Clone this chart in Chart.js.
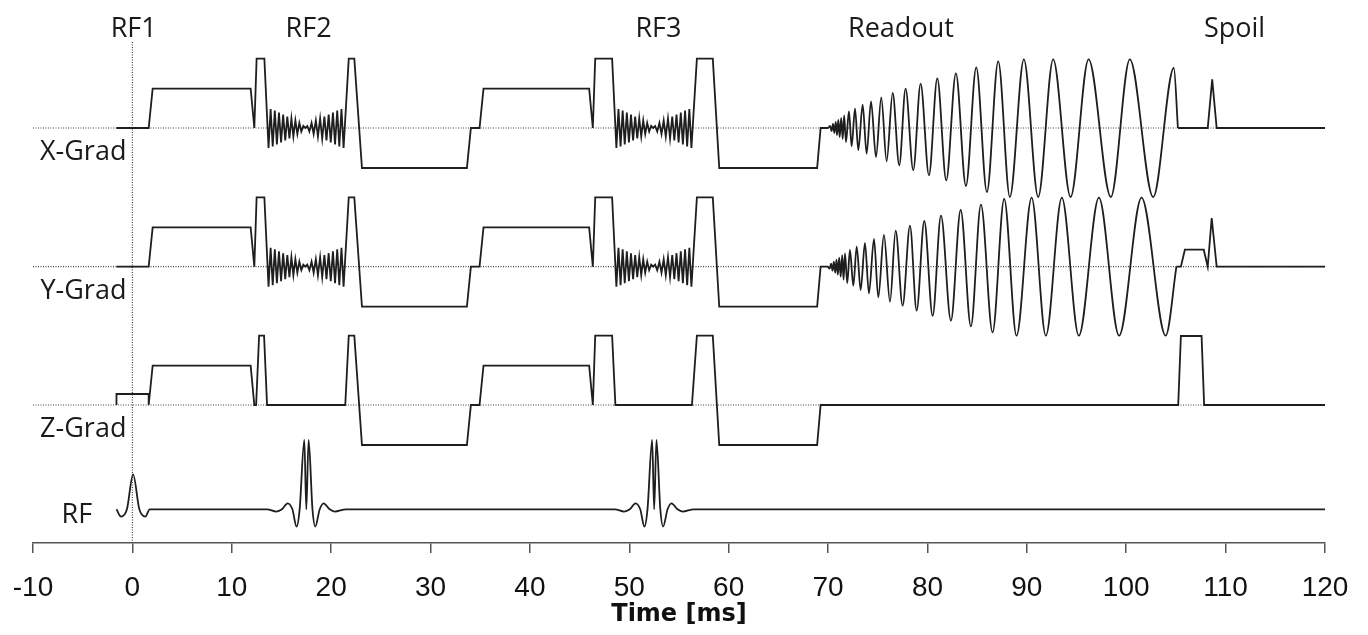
<!DOCTYPE html>
<html>
<head>
<meta charset="utf-8">
<script src="https://cdn.jsdelivr.net/npm/chart.js@4.4.0/dist/chart.umd.min.js"></script>
<style>
  html, body { margin: 0; padding: 0; background: #fff; }
  canvas { display: block; }
</style>
</head>
<body>
<canvas id="seqChart" width="1368" height="635"></canvas>
<script>
(function() {
  'use strict';

  // ---- data (time in ms, amplitude in arbitrary units) ----

  const timeTicks = [-10, 0, 10, 20, 30, 40, 50, 60, 70, 80, 90, 100, 110, 120];

  const channelNames = ['X-Grad', 'Y-Grad', 'Z-Grad', 'RF'];
  const channelBaselines = [4.15, 2.763, 1.38, 0.337];

  const eventLabels = ['RF1', 'RF2', 'RF3', 'Readout', 'Spoil'];
  const eventTimes = [0.13, 17.73, 52.93, 77.33, 110.9];

  // X / Y gradients before readout (same on both axes)
  const prepT1 = [-1.6, 1.64, 2.04, 11.9, 12.27, 12.5, 13.28];
  const prepA1 = [0, 0, 0.394, 0.394, 0, 0.693, 0.693];
  const prepT2 = [21.77, 22.33, 23.1, 33.66, 34.06, 34.93, 35.33, 45.96, 46.33, 46.57, 48.27];
  const prepA2 = [0.693, 0.693, -0.40, -0.40, 0, 0, 0.394, 0.394, 0, 0.693, 0.693];
  const prepT3 = [56.8, 58.4, 59.05, 68.9, 69.25, 70.0];
  const prepA3 = [0.693, 0.693, -0.40, -0.40, 0, 0];

  // zigzag under RF2 / RF3, times relative to its centre
  const zigCenters = [17.4, 52.4];
  const zigT = [-3.7, -3.49, -3.28, -3.07, -2.86, -2.65, -2.44, -2.23, -2.02, -1.81, -1.60, -1.40,
    -1.20, -1.00, -0.80, -0.60, -0.40, -0.20, 0, 0.20, 0.41, 0.63, 0.84, 1.06, 1.27, 1.49, 1.70,
    1.92, 2.13, 2.35, 2.56, 2.78, 2.99, 3.21, 3.42, 3.64, 3.85];
  const zigA = [-0.20, 0.19, -0.185, 0.175, -0.165, 0.155, -0.145, 0.135, -0.125, 0.115, -0.105,
    0.095, -0.085, 0.075, -0.06, 0.05, -0.035, 0.02, 0, 0.02, -0.035, 0.05, -0.06, 0.075, -0.085,
    0.095, -0.105, 0.115, -0.125, 0.135, -0.145, 0.155, -0.165, 0.175, -0.185, 0.19, -0.20];

  // spiral readout extrema
  const xReadT = [70.0, 70.2, 70.35, 70.5, 70.63, 70.77, 70.9, 71.03, 71.17, 71.32, 71.47, 71.62,
    71.8, 72.10, 72.37, 72.71, 73.04, 73.48, 73.88, 74.32, 74.82, 75.35, 75.89, 76.50, 77.16,
    77.80, 78.57, 79.31, 80.15, 80.99, 81.89, 82.86, 83.87, 84.91, 85.98, 87.12, 88.29, 89.70,
    91.14, 92.65, 94.40, 96.21, 98.45, 100.36, 102.71, 104.79, 105.2];
  const xReadA = [0, 0.02, -0.03, 0.04, -0.05, 0.06, -0.07, 0.08, -0.09, 0.10, -0.11, 0.125,
    -0.14, 0.167, -0.183, 0.193, -0.22, 0.233, -0.257, 0.267, -0.29, 0.307, -0.333, 0.35, -0.373,
    0.393, -0.423, 0.443, -0.473, 0.497, -0.523, 0.547, -0.58, 0.607, -0.64, 0.667, -0.69, 0.687,
    -0.69, 0.687, -0.69, 0.687, -0.69, 0.687, -0.69, 0.60, 0];
  const yReadT = [70.0, 70.15, 70.3, 70.45, 70.58, 70.72, 70.85, 70.98, 71.12, 71.27, 71.42, 71.56,
    71.70, 71.93, 72.20, 72.54, 72.88, 73.28, 73.71, 74.11, 74.62, 75.05, 75.62, 76.23, 76.80,
    77.50, 78.24, 78.91, 79.68, 80.52, 81.36, 82.36, 83.34, 84.37, 85.38, 86.55, 87.72, 88.96,
    90.48, 91.91, 93.52, 95.23, 97.25, 99.28, 101.54, 103.97, 105.05];
  const yReadA = [0, -0.02, 0.03, -0.04, 0.05, -0.06, 0.07, -0.08, 0.09, -0.10, 0.115, -0.13,
    0.133, -0.163, 0.167, -0.19, 0.20, -0.233, 0.237, -0.267, 0.277, -0.307, 0.317, -0.35, 0.36,
    -0.39, 0.41, -0.44, 0.457, -0.49, 0.51, -0.54, 0.567, -0.597, 0.62, -0.657, 0.677, -0.69,
    0.69, -0.69, 0.69, -0.69, 0.69, -0.69, 0.69, -0.69, 0];

  // spoilers
  const xSpoilT = [105.2, 108.2, 108.65, 109.1, 120];
  const xSpoilA = [0, 0, 0.487, 0, 0];
  const ySpoilT = [105.05, 105.5, 105.9, 107.8, 108.2, 108.6, 109.1, 120];
  const ySpoilA = [0, 0, 0.17, 0.17, 0, 0.487, 0, 0];

  // Z gradient, whole trace
  const zT = [-1.6, -1.6, 1.64, 1.64, 2.04, 11.9, 12.27, 12.45, 12.75, 13.25, 13.55, 21.42, 21.77,
    22.33, 23.1, 33.66, 34.06, 34.93, 35.33, 45.96, 46.33, 46.57, 48.27, 48.6, 56.3, 56.8, 58.4,
    59.05, 68.9, 69.25, 105.23, 105.5, 107.58, 107.84, 120];
  const zA = [0, 0.11, 0.11, 0, 0.393, 0.393, 0, 0, 0.693, 0.693, 0, 0, 0.693, 0.693, -0.40,
    -0.40, 0, 0, 0.393, 0.393, 0, 0.693, 0.693, 0, 0, 0.693, 0.693, -0.40, -0.40, 0, 0, 0.69,
    0.69, 0, 0];

  // RF pulses
  const rf1T = [-1.6, -1.14, -0.55, 0.07, 0.7, 1.31, 1.74];
  const rf1A = [0, -0.073, 0, 0.35, 0, -0.073, 0];
  const sincCenters = [17.5, 52.5];
  const sincT = [-3.95, -3.02, -2.45, -1.88, -1.4, -0.98, -0.67, -0.2, 0, 0.23, 0.62, 0.9, 1.35,
    1.74, 2.35, 2.85, 4.0];
  const sincA = [0, -0.023, 0, 0.06, 0, -0.173, 0, 0.693, 0.0, 0.693, 0, -0.173, 0, 0.06, 0,
    -0.023, 0];
  const rfEndT = [120];
  const rfEndA = [0];

  // ---- build point lists ----
  function toPoints(times, values, base, shift) {
    const s = shift || 0;
    return times.map((t, i) => ({ x: t + s, y: base + values[i] }));
  }

  function gradPrep(base) {
    return [
      ...toPoints(prepT1, prepA1, base),
      ...toPoints(zigT, zigA, base, zigCenters[0]),
      ...toPoints(prepT2, prepA2, base),
      ...toPoints(zigT, zigA, base, zigCenters[1]),
      ...toPoints(prepT3, prepA3, base)
    ];
  }

  const [bX, bY, bZ, bRF] = channelBaselines;

  const rfPoints = [
    ...toPoints(rf1T, rf1A, bRF),
    ...toPoints(sincT, sincA, bRF, sincCenters[0]),
    ...toPoints(sincT, sincA, bRF, sincCenters[1]),
    ...toPoints(rfEndT, rfEndA, bRF)
  ];

  const lineColor = '#1e1e1e';
  const solid = (data, smooth) => ({
    data: data,
    borderColor: lineColor,
    borderWidth: 1.8,
    pointRadius: 0,
    fill: false,
    tension: 0,
    cubicInterpolationMode: smooth ? 'monotone' : 'default',
    order: 0
  });
  const dotted = (data) => ({
    data: data,
    borderColor: '#444',
    borderWidth: 1.2,
    borderDash: [1, 1.5],
    pointRadius: 0,
    fill: false,
    order: 10
  });

  const datasets = [
    solid(gradPrep(bX), false),
    solid(toPoints(xReadT, xReadA, bX), true),
    solid(toPoints(xSpoilT, xSpoilA, bX), false),
    solid(gradPrep(bY), false),
    solid(toPoints(yReadT, yReadA, bY), true),
    solid(toPoints(ySpoilT, ySpoilA, bY), false),
    solid(toPoints(zT, zA, bZ), false),
    solid(rfPoints, true),
    // dotted zero lines and the t = 0 marker
    dotted([{ x: -10, y: bX }, { x: 120, y: bX }]),
    dotted([{ x: -10, y: bY }, { x: 120, y: bY }]),
    dotted([{ x: -10, y: bZ }, { x: 120, y: bZ }]),
    dotted([{ x: 0, y: 0 }, { x: 0, y: 5.02 }])
  ];

  // Text labels: event names on top, channel names under each trace
  const labelPlugin = {
    id: 'seqLabels',
    afterDatasetsDraw(chart) {
      const { ctx, scales: { x, y } } = chart;
      ctx.save();
      ctx.fillStyle = '#1a1a1a';
      ctx.font = '27px "Open Sans"';
      ctx.textBaseline = 'alphabetic';

      ctx.textAlign = 'center';
      eventLabels.forEach((name, i) => {
        ctx.fillText(name, x.getPixelForValue(eventTimes[i]), y.getPixelForValue(5.065));
      });

      ctx.textAlign = 'right';
      channelNames.forEach((name, i) => {
        const isRf = name === 'RF';
        const tx = x.getPixelForValue(isRf ? -4.05 : -0.6);
        const ty = y.getPixelForValue(channelBaselines[i] - (isRf ? 0.134 : 0.32));
        ctx.fillText(name, tx, ty);
      });
      ctx.restore();
    }
  };

  function render() {
    const canvas = document.getElementById('seqChart');
    new Chart(canvas, {
      type: 'line',
      data: { datasets: datasets },
      options: {
        responsive: false,
        animation: false,
        devicePixelRatio: 1,
        layout: { padding: { left: 33, right: 43, top: 0, bottom: 0 } },
        plugins: {
          legend: { display: false },
          tooltip: { enabled: false }
        },
        scales: {
          x: {
            type: 'linear',
            min: -10,
            max: 120,
            afterBuildTicks: (axis) => {
              axis.ticks = timeTicks.map(v => ({ value: v }));
            },
            // fixed axis band height so the plot area ends where the figure's axis is
            afterFit: (axis) => {
              axis.height = 92;
              axis.paddingLeft = 0;
              axis.paddingRight = 0;
            },
            ticks: {
              color: '#111',
              padding: 21,
              maxRotation: 0,
              autoSkip: false,
              font: { family: '"Liberation Sans", Arial, sans-serif', size: 28, lineHeight: 1 }
            },
            grid: {
              display: true,
              drawOnChartArea: false,
              drawTicks: true,
              tickLength: 10,
              color: '#555',
              lineWidth: 1.5
            },
            border: { display: true, color: '#555', width: 1.5 },
            title: {
              display: true,
              text: 'Time [ms]',
              color: '#111',
              padding: { top: 1, bottom: 8 },
              font: { family: '"DejaVu Sans", sans-serif', weight: 'bold', size: 24, lineHeight: 1 }
            }
          },
          y: {
            type: 'linear',
            min: 0,
            max: 5.43,
            display: false
          }
        }
      },
      plugins: [labelPlugin]
    });
  }

  // make sure the label font is ready before drawing
  if (document.fonts && document.fonts.load) {
    document.fonts.load('27px "Open Sans"').then(render, render);
  } else {
    render();
  }
})();
</script>
</body>
</html>
